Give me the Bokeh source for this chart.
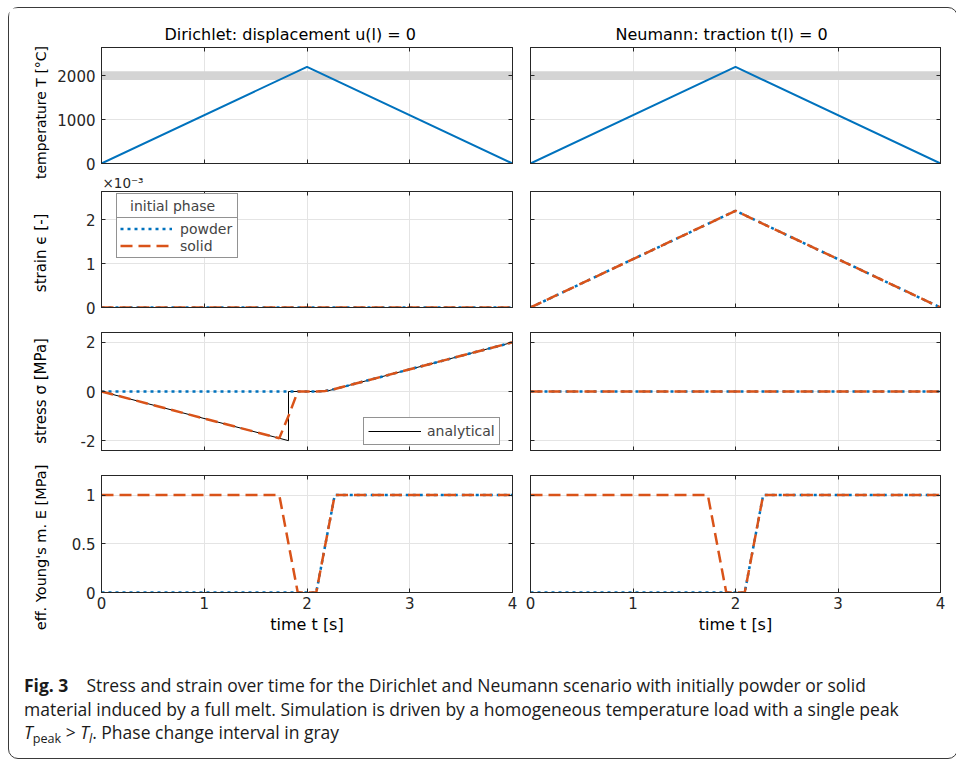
from math import pi
from bokeh.plotting import figure
from bokeh.layouts import gridplot, column, row
from bokeh.models import (Range1d, FixedTicker, LinearAxis, Legend, LegendItem,
                          Label, CustomJSTickFormatter, Div, Title)
from bokeh.embed import file_html
from bokeh.resources import INLINE

# ---------------- data ----------------
x_ticks = [0, 1, 2, 3, 4]

# temperature load (same for both scenarios)
t_temp = [0, 2, 4]
T_temp = [0, 2200, 0]
phase_interval = [1900, 2100]   # solidus / liquidus (gray band)

# Dirichlet: displacement u(l) = 0
t_eps_D = [0, 4]
eps_powder_D = [0, 0]
eps_solid_D = [0, 0]
t_sig_powder_D = [0, 2.09, 2.18, 2.27, 4]
sig_powder_D = [0, 0, 0.025, 0.1, 2.0]
t_sig_solid_D = [0, 1.73, 1.82, 1.91, 2.09, 2.18, 2.27, 4]
sig_solid_D = [0, -1.9, -1.0, 0, 0, 0.025, 0.1, 2.0]
t_sig_analytical = [0, 1.82, 1.82, 2.18, 4]
sig_analytical = [0, -2, 0, 0, 2]

# Neumann: traction t(l) = 0
t_eps_N = [0, 2, 4]
eps_powder_N = [0, 2.2e-3, 0]
eps_solid_N = [0, 2.2e-3, 0]
t_sig_N = [0, 4]
sig_powder_N = [0, 0]
sig_solid_N = [0, 0]

# effective Young's modulus (both scenarios)
t_E_powder = [0, 2.09, 2.27, 4]
E_powder = [0, 0, 1, 1]
t_E_solid = [0, 1.73, 1.91, 2.09, 2.27, 4]
E_solid = [1, 1, 0, 0, 1, 1]

T_ticks = [0, 1000, 2000]
eps_ticks = [0, 1e-3, 2e-3]
sig_ticks = [-2, 0, 2]
E_ticks = [0, 0.5, 1]

y_labels = ["temperature T [°C]", "strain  \u03f5 [-]", "stress  \u03c3 [MPa]",
            "eff. Young's m. E [MPa]"]
col_titles = ["Dirichlet: displacement u(l) = 0", "Neumann: traction t(l) = 0"]
strain_exponent = "\u00d710\u207b\u00b3"

# ---------------- style / layout ----------------
BLUE = "#0072BD"
ORANGE = "#D95319"
FRAME = "#262626"
GRID = "#e4e4e4"
BAND = "#d4d4d4"
FONT = "DejaVu Sans"
DOT = "3 4"
DASH = "12 6"

STRIP_W = 45
col_w = [467, 426]
col_mb_l = [47, 9]
col_mb_r = [9, 7]
row_h = [164, 144, 140, 193]
row_mb_t = [39, 19, 16, 19]
row_mb_b = [9, 9, 6, 57]
TOTAL_H = sum(row_h)

# y-label positions inside the label strip (px from strip bottom / left)
ylab_y = [537, 399, 261, 102]
ylab_x = 31.5
ylab_size = ["14px", "15px", "15px", "14.5px"]

EMPTY = "return ''"


def hide_labels(ax):
    ax.formatter = CustomJSTickFormatter(code=EMPTY)
    ax.major_label_text_font_size = "1px"
    ax.major_label_standoff = 0


def style_axis(ax):
    ax.major_tick_in = 4
    ax.major_tick_out = 0
    ax.minor_tick_in = 0
    ax.minor_tick_out = 0
    ax.axis_line_color = FRAME
    ax.major_tick_line_color = FRAME
    ax.major_label_text_font = FONT
    ax.major_label_text_font_size = "15px"
    ax.major_label_text_color = "#262626"
    ax.axis_label_text_font = FONT
    ax.axis_label_text_font_size = "16px"
    ax.axis_label_text_font_style = "normal"
    ax.axis_label_text_color = "#000000"


def make_panel(r, c, y_lo, y_hi, yticks, fmt_code, title=None, title_offset=0):
    p = figure(width=col_w[c], height=row_h[r],
               x_range=Range1d(0, 4), y_range=Range1d(y_lo, y_hi),
               output_backend="svg", toolbar_location=None,
               min_border_left=col_mb_l[c], min_border_right=col_mb_r[c],
               min_border_top=row_mb_t[r], min_border_bottom=row_mb_b[r])
    p.title_location = None
    p.outline_line_color = FRAME
    p.outline_line_width = 1
    p.background_fill_color = "white"
    p.border_fill_color = "white"
    bx = p.below[0]
    ly = p.left[0]
    xt = FixedTicker(ticks=x_ticks)
    yt = FixedTicker(ticks=yticks)
    bx.ticker = xt
    ly.ticker = yt
    p.xgrid.ticker = xt
    p.ygrid.ticker = yt
    for g in (p.xgrid, p.ygrid):
        g.grid_line_color = GRID
        g.grid_line_width = 1
    above = LinearAxis(ticker=xt)
    right = LinearAxis(ticker=yt)
    p.add_layout(above, "above")
    p.add_layout(right, "right")
    for ax in (bx, ly, above, right):
        style_axis(ax)
    hide_labels(above)
    hide_labels(right)
    ly.formatter = CustomJSTickFormatter(code=fmt_code)
    bx.formatter = CustomJSTickFormatter(code="return String(tick)")
    if r < 3:
        hide_labels(bx)
    else:
        bx.major_label_standoff = 4
        bx.axis_label = "time t [s]"
        bx.axis_label_standoff = 3
    if c == 1:
        hide_labels(ly)
    else:
        ly.major_label_standoff = 6
    if title is not None:
        p.add_layout(Title(text=title, text_font=FONT, text_font_size="16px",
                           text_font_style="normal", align="left",
                           offset=title_offset, standoff=8,
                           text_color="#000000"), "above")
    return p


fmt_int = "return String(tick)"
fmt_eps = "return String(Math.round(tick*1000))"

panels = []
for c in range(2):
    # temperature
    pT = make_panel(0, c, 0, 2640, T_ticks, fmt_int, col_titles[c], 63 if c == 0 else 85)
    pT.quad(left=[x_ticks[0]], right=[x_ticks[-1]], bottom=[phase_interval[0]],
            top=[phase_interval[1]], fill_color=BAND, line_color=None)
    pT.line(t_temp, T_temp, line_color=BLUE, line_width=2)

    # strain
    pe = make_panel(1, c, 0, 2.64e-3, eps_ticks, fmt_eps)
    if c == 0:
        rp = pe.line(t_eps_D, eps_powder_D, line_color=BLUE, line_width=2.5, line_dash=DOT)
        rs = pe.line(t_eps_D, eps_solid_D, line_color=ORANGE, line_width=2.5, line_dash=DASH)
        dummy = pe.line(x=[], y=[], line_alpha=0)
        leg_title = Legend(items=[LegendItem(label="initial phase", renderers=[dummy])],
                           location=(15, 89), padding=3, spacing=0,
                           glyph_width=10, glyph_height=17, label_height=17,
                           label_standoff=0, label_width=104,
                           label_text_font=FONT, label_text_font_size="14px",
                           border_line_color=FRAME, border_line_width=1,
                           background_fill_color="white", background_fill_alpha=1)
        leg_items = Legend(items=[LegendItem(label="powder", renderers=[rp]),
                                  LegendItem(label="solid", renderers=[rs])],
                           location=(15, 49), padding=3, spacing=0,
                           glyph_width=52, glyph_height=17, label_height=17,
                           label_standoff=8, label_width=54,
                           label_text_font=FONT, label_text_font_size="14px",
                           border_line_color=FRAME, border_line_width=1,
                           background_fill_color="white", background_fill_alpha=1)
        pe.add_layout(leg_items, "center")
        pe.add_layout(leg_title, "center")
        pe.add_layout(Title(text=strain_exponent, text_font=FONT, text_font_size="13.5px",
                            text_font_style="normal", align="left", offset=1,
                            standoff=1, text_color="#262626"), "above")
    else:
        pe.line(t_eps_N, eps_powder_N, line_color=BLUE, line_width=2.5, line_dash=DOT)
        pe.line(t_eps_N, eps_solid_N, line_color=ORANGE, line_width=2.5, line_dash=DASH)

    # stress
    ps = make_panel(2, c, -2.4, 2.4, sig_ticks, fmt_int)
    if c == 0:
        ra = ps.line(t_sig_analytical, sig_analytical, line_color="black", line_width=1)
        ps.line(t_sig_powder_D, sig_powder_D, line_color=BLUE, line_width=2.5, line_dash=DOT)
        ps.line(t_sig_solid_D, sig_solid_D, line_color=ORANGE, line_width=2.5, line_dash=DASH)
        leg_a = Legend(items=[LegendItem(label="analytical", renderers=[ra])],
                       location=(262, 5), padding=4, spacing=0,
                       glyph_width=53, glyph_height=18, label_height=18,
                       label_standoff=6, label_width=68,
                       label_text_font=FONT, label_text_font_size="14px",
                       border_line_color=FRAME, border_line_width=1,
                       background_fill_color="white", background_fill_alpha=1)
        ps.add_layout(leg_a, "center")
    else:
        ps.line(t_sig_N, sig_powder_N, line_color=BLUE, line_width=2.5, line_dash=DOT)
        ps.line(t_sig_N, sig_solid_N, line_color=ORANGE, line_width=2.5, line_dash=DASH)

    # Young's modulus
    pE = make_panel(3, c, 0, 1.2, E_ticks, fmt_int)
    pE.line(t_E_powder, E_powder, line_color=BLUE, line_width=2.5, line_dash=DOT)
    pE.line(t_E_solid, E_solid, line_color=ORANGE, line_width=2.5, line_dash=DASH)

    panels.append([pT, pe, ps, pE])

# strip holding the y-axis labels of the left column
strip = figure(width=STRIP_W, height=TOTAL_H, x_range=Range1d(0, STRIP_W),
               y_range=Range1d(0, TOTAL_H), x_axis_location=None, y_axis_location=None,
               output_backend="svg", toolbar_location=None,
               min_border_left=0, min_border_right=0, min_border_top=0, min_border_bottom=0)
strip.title_location = None
strip.grid.visible = False
strip.outline_line_color = None
for txt, yy, fs in zip(y_labels, ylab_y, ylab_size):
    strip.add_layout(Label(x=ylab_x, y=yy, text=txt, angle=pi / 2,
                           text_align="center", text_baseline="alphabetic",
                           text_font=FONT, text_font_size=fs, text_color="#000000"))

grid = gridplot([[panels[0][i], panels[1][i]] for i in range(4)],
                toolbar_location=None)

caption_html = (
    '<div style="font-family:\'Open Sans\'; font-size:17.5px; line-height:23.5px; '
    'color:#1a1a1a; padding:20px 0 0 10px; white-space:nowrap;">'
    '<b>Fig. 3</b><span style="display:inline-block;width:18px"></span>'
    'Stress and strain over time for the Dirichlet and Neumann scenario with initially powder or solid<br>'
    'material induced by a full melt. Simulation is driven by a homogeneous temperature load with a single peak<br>'
    '<i>T</i><sub style="font-size:72%;line-height:0;vertical-align:-0.35em">peak</sub> &gt; '
    '<i>T</i><sub style="font-size:72%;line-height:0;vertical-align:-0.35em"><i>l</i></sub>. '
    'Phase change interval in gray</div>'
)
caption = Div(text=caption_html, width=938, height=99)

layout = column(row(strip, grid), caption,
                styles={"border": "1.5px solid #3a3a3a", "border-radius": "10px",
                        "position": "absolute", "left": "8px", "top": "7px"})

open("out.html", "w").write(file_html(layout, INLINE))
